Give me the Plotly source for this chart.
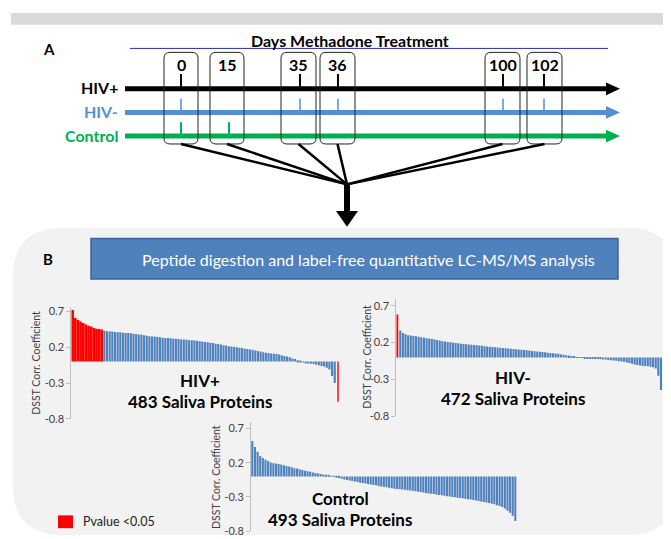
import plotly.graph_objects as go

W, H = 671, 539

# ---------------- data ----------------
days = [0, 15, 35, 36, 100, 102]
day_labels = ["0", "15", "35", "36", "100", "102"]
hivpos_days = [0, 35, 36, 100, 102]
hivneg_days = [0, 35, 36, 100, 102]
control_days = [0, 15]

tick_vals = [0.7, 0.2, -0.3, -0.8]
tick_text = ["0.7", "0.2", "-0.3", "-0.8"]

hivpos_corr = [0.72, 0.61, 0.58, 0.56, 0.54, 0.52, 0.50, 0.49, 0.47, 0.46, 0.455, 0.45,
               0.43, 0.425, 0.42, 0.42, 0.415, 0.41, 0.41, 0.405, 0.40, 0.40, 0.395, 0.39,
               0.385, 0.38, 0.375, 0.37, 0.36, 0.355, 0.35, 0.35, 0.345, 0.34, 0.335, 0.33,
               0.33, 0.325, 0.32, 0.32, 0.315, 0.31, 0.31, 0.305, 0.30, 0.30, 0.295, 0.29,
               0.285, 0.28, 0.275, 0.27, 0.265, 0.26, 0.25, 0.245, 0.24, 0.23, 0.225, 0.215,
               0.21, 0.205, 0.20, 0.195, 0.19, 0.18, 0.175, 0.17, 0.165, 0.155, 0.15, 0.14,
               0.13, 0.125, 0.12, 0.115, 0.11, 0.105, 0.10, 0.09, 0.08, 0.07, 0.06, 0.045,
               0.035, 0.02, 0.01, -0.005, -0.015, -0.025, -0.03, -0.035, -0.045, -0.05, -0.06,
               -0.07, -0.085, -0.11, -0.20, -0.30, -0.56]
hivpos_sig = [0, 1, 2, 3, 4, 5, 6, 7, 8, 9, 10, 11, 100]

hivneg_corr = [0.58, 0.365, 0.33, 0.315, 0.30, 0.295, 0.29, 0.285, 0.278, 0.272, 0.265, 0.26,
               0.255, 0.25, 0.243, 0.235, 0.228, 0.22, 0.215, 0.21, 0.205, 0.20, 0.196, 0.19,
               0.186, 0.182, 0.178, 0.174, 0.17, 0.167, 0.164, 0.16, 0.156, 0.152, 0.148, 0.144,
               0.14, 0.137, 0.133, 0.13, 0.127, 0.124, 0.12, 0.117, 0.114, 0.11, 0.107, 0.104,
               0.10, 0.096, 0.092, 0.088, 0.084, 0.08, 0.076, 0.072, 0.068, 0.063, 0.059, 0.055,
               0.052, 0.048, 0.042, 0.036, 0.03, 0.024, 0.018, 0.01, 0.003, -0.002, -0.006, -0.009,
               -0.012, -0.014, -0.017, -0.02, -0.023, -0.026, -0.028, -0.03, -0.034, -0.038, -0.042,
               -0.047, -0.052, -0.056, -0.06, -0.068, -0.076, -0.085, -0.095, -0.103, -0.11, -0.115,
               -0.118, -0.12, -0.125, -0.135, -0.15, -0.25, -0.44]
hivneg_sig = [0]

control_corr = [0.52, 0.43, 0.36, 0.30, 0.27, 0.245, 0.225, 0.205, 0.195, 0.19, 0.182, 0.175,
                0.165, 0.155, 0.145, 0.135, 0.12, 0.115, 0.105, 0.095, 0.085, 0.077, 0.068, 0.06,
                0.052, 0.045, 0.037, 0.03, 0.02, 0.013, 0.005, -0.003, -0.012, -0.022, -0.032,
                -0.045, -0.052, -0.06, -0.068, -0.075, -0.082, -0.09, -0.097, -0.103, -0.11, -0.117,
                -0.124, -0.13, -0.14, -0.146, -0.152, -0.158, -0.165, -0.172, -0.178, -0.182, -0.186,
                -0.19, -0.195, -0.2, -0.205, -0.21, -0.216, -0.222, -0.228, -0.235, -0.242, -0.248,
                -0.253, -0.258, -0.264, -0.27, -0.276, -0.283, -0.289, -0.294, -0.3, -0.305, -0.31,
                -0.315, -0.32, -0.326, -0.332, -0.338, -0.344, -0.35, -0.36, -0.366, -0.373, -0.38,
                -0.388, -0.398, -0.408, -0.42, -0.432, -0.447, -0.47, -0.5, -0.53, -0.575, -0.65]
control_sig = []

# ---------------- style / layout helpers ----------------
FONT = "Lato"
BLUE_BAR = "#4f81bd"
RED = "#ff0000"
BLACK = "#000000"
HIVNEG_C = "#558ed5"
CONTROL_C = "#00b050"


def X(px):
    return px / W


def Y(py):
    return 1 - py / H


def path_pts(pts, close=True):
    s = "M " + " L ".join(f"{X(x):.5f},{Y(y):.5f}" for x, y in pts)
    return s + (" Z" if close else "")


def rrect(x0, y0, x1, y1, r):
    p = [
        f"M {X(x0 + r):.5f},{Y(y0):.5f}",
        f"L {X(x1 - r):.5f},{Y(y0):.5f}",
        f"Q {X(x1):.5f},{Y(y0):.5f} {X(x1):.5f},{Y(y0 + r):.5f}",
        f"L {X(x1):.5f},{Y(y1 - r):.5f}",
        f"Q {X(x1):.5f},{Y(y1):.5f} {X(x1 - r):.5f},{Y(y1):.5f}",
        f"L {X(x0 + r):.5f},{Y(y1):.5f}",
        f"Q {X(x0):.5f},{Y(y1):.5f} {X(x0):.5f},{Y(y1 - r):.5f}",
        f"L {X(x0):.5f},{Y(y0 + r):.5f}",
        f"Q {X(x0):.5f},{Y(y0):.5f} {X(x0 + r):.5f},{Y(y0):.5f} Z",
    ]
    return " ".join(p)


shapes = []
ann = []


def line(x0, y0, x1, y1, color=BLACK, width=2, layer="above"):
    shapes.append(dict(type="line", xref="paper", yref="paper", x0=X(x0), y0=Y(y0),
                       x1=X(x1), y1=Y(y1), line=dict(color=color, width=width), layer=layer))


def text(x, y, s, size=12, color=BLACK, bold=False, xanchor="center", angle=0):
    ann.append(dict(xref="paper", yref="paper", x=X(x), y=Y(y), text=(f"<b>{s}</b>" if bold else s),
                    showarrow=False, xanchor=xanchor, yanchor="middle", textangle=angle,
                    font=dict(family=FONT, size=size, color=color)))


# top gray bar
shapes.append(dict(type="rect", xref="paper", yref="paper", x0=X(3), x1=X(668), y0=Y(15), y1=Y(3),
                   fillcolor="#d9d9d9", line_width=0, layer="below"))
# panel B gray background
shapes.append(dict(type="path", xref="paper", yref="paper", path=rrect(5, 221, 668, 533, 50),
                   fillcolor="#f2f2f2", line_width=0, layer="below"))

# ---------------- panel A : timeline schematic ----------------
day_px = [173, 221, 292, 330, 495, 536]        # schematic positions of the sampling days
box_x = [(156, 190), (202, 236), (273, 308), (312, 347), (477, 512), (519, 554)]
pos = dict(zip(days, day_px))

text(41, 40, "A", 15, bold=True)
text(342, 31, "Days Methadone Treatment", 16, bold=True)
line(122, 39, 600, 39, "#2a2ab0", 1)

rows = [("HIV+", BLACK, 80, hivpos_days, 65), ("HIV-", HIVNEG_C, 104, hivneg_days, 90),
        ("Control", CONTROL_C, 128, control_days, 114)]
for name, col, yy, ds, ytop in rows:
    line(117, yy, 600, yy, col, 5)
    shapes.append(dict(type="path", xref="paper", yref="paper",
                       path=path_pts([(598, yy - 6.5), (612, yy), (598, yy + 6.5)]),
                       fillcolor=col, line_width=0))
    text(112, yy - 1, name, 16, col, bold=True, xanchor="right")
    for d in ds:
        line(pos[d], ytop, pos[d], yy, col, 2 if col != HIVNEG_C else 1.5)

for (bx0, bx1), lab, d in zip(box_x, day_labels, days):
    shapes.append(dict(type="path", xref="paper", yref="paper", path=rrect(bx0, 43, bx1, 136, 6),
                       line=dict(color="#222222", width=1), fillcolor="rgba(0,0,0,0)"))
    text((bx0 + bx1) / 2, 55, lab, 16, bold=True)
    line((bx0 + bx1) / 2, 136, 339, 177, BLACK, 2.5)

line(339, 176, 339, 206, BLACK, 6)
shapes.append(dict(type="path", xref="paper", yref="paper",
                   path=path_pts([(328, 204), (350, 204), (339, 220)]), fillcolor=BLACK, line_width=0))

# ---------------- panel B ----------------
text(40, 253, "B", 15, bold=True)
shapes.append(dict(type="rect", xref="paper", yref="paper", x0=X(83), x1=X(610), y0=Y(273), y1=Y(232),
                   fillcolor="#4f81bd", line=dict(color="#3a6496", width=1.5)))
text(360, 253, "Peptide digestion and label-free quantitative LC-MS/MS analysis", 16, "#ffffff")

fig = go.Figure()

charts = [
    (hivpos_corr, hivpos_sig, "x", "y", (63.3, 330.7), (415, 301), [-0.8, 0.77]),
    (hivneg_corr, hivneg_sig, "x2", "y2", (388.3, 654.3), (412.6, 293.4), [-0.8, 0.79]),
    (control_corr, control_sig, "x3", "y3", (243, 508.7), (529, 418), [-0.8, 0.8]),
]
layout_axes = {}
for k, (vals, sig, xa, ya, (px0, px1), (pyb, pyt), yr) in enumerate(charts):
    n = len(vals)
    colors = [RED if i in sig else BLUE_BAR for i in range(n)]
    widths, offs = [], []
    for i in range(n):
        if i in sig and ((i - 1) in sig or (i + 1) in sig):
            widths.append(1.0); offs.append(-0.5)      # contiguous red block: no gaps
        elif i in sig:
            widths.append(0.4); offs.append(-0.5 if i == 0 else 0.1)   # isolated thin red line
        else:
            widths.append(0.8); offs.append(-0.4)
    fig.add_trace(go.Bar(x=list(range(n)), y=vals, xaxis=xa, yaxis=ya, width=widths, offset=offs,
                         marker=dict(color=colors, line=dict(width=0)),
                         showlegend=False, hoverinfo="y"))
    sx = "" if k == 0 else str(k + 1)
    layout_axes["xaxis" + sx] = dict(domain=[X(px0), X(px1)], range=[-0.5, n - 0.5], visible=False,
                                     anchor="y" + sx)
    layout_axes["yaxis" + sx] = dict(domain=[Y(pyb), Y(pyt)], range=yr, anchor="x" + sx,
                                     tickvals=tick_vals, ticktext=tick_text, showline=True,
                                     linecolor="#bfbfbf", linewidth=1, ticks="outside", ticklen=4,
                                     tickcolor="#bfbfbf", showgrid=False, zeroline=False,
                                     tickfont=dict(family=FONT, size=11, color="#404040"))

# axis titles and chart labels
text(28, 358, "DSST Corr. Coefficient", 10.5, "#404040", angle=-90)
text(359, 352, "DSST Corr. Coefficient", 10.5, "#404040", angle=-90)
text(208, 474, "DSST Corr. Coefficient", 10.5, "#404040", angle=-90)

text(192, 376, "HIV+", 17, bold=True)
text(192, 397, "483 Saliva Proteins", 17, bold=True)
text(505, 373, "HIV-", 17, bold=True)
text(505, 394, "472 Saliva Proteins", 17, bold=True)
text(332, 496, "Control", 17, bold=True)
text(332, 517, "493 Saliva Proteins", 17, bold=True)

# legend
shapes.append(dict(type="rect", xref="paper", yref="paper", x0=X(50), x1=X(65), y0=Y(526), y1=Y(513),
                   fillcolor=RED, line_width=0))
text(73, 519.5, "Pvalue &lt;0.05", 12.5, "#222222", xanchor="left")

fig.update_layout(width=W, height=H, margin=dict(l=0, r=0, t=0, b=0),
                  paper_bgcolor="#ffffff", plot_bgcolor="rgba(0,0,0,0)",
                  bargap=0.2, shapes=shapes, annotations=ann, **layout_axes)

fig.write_html("out.html")
